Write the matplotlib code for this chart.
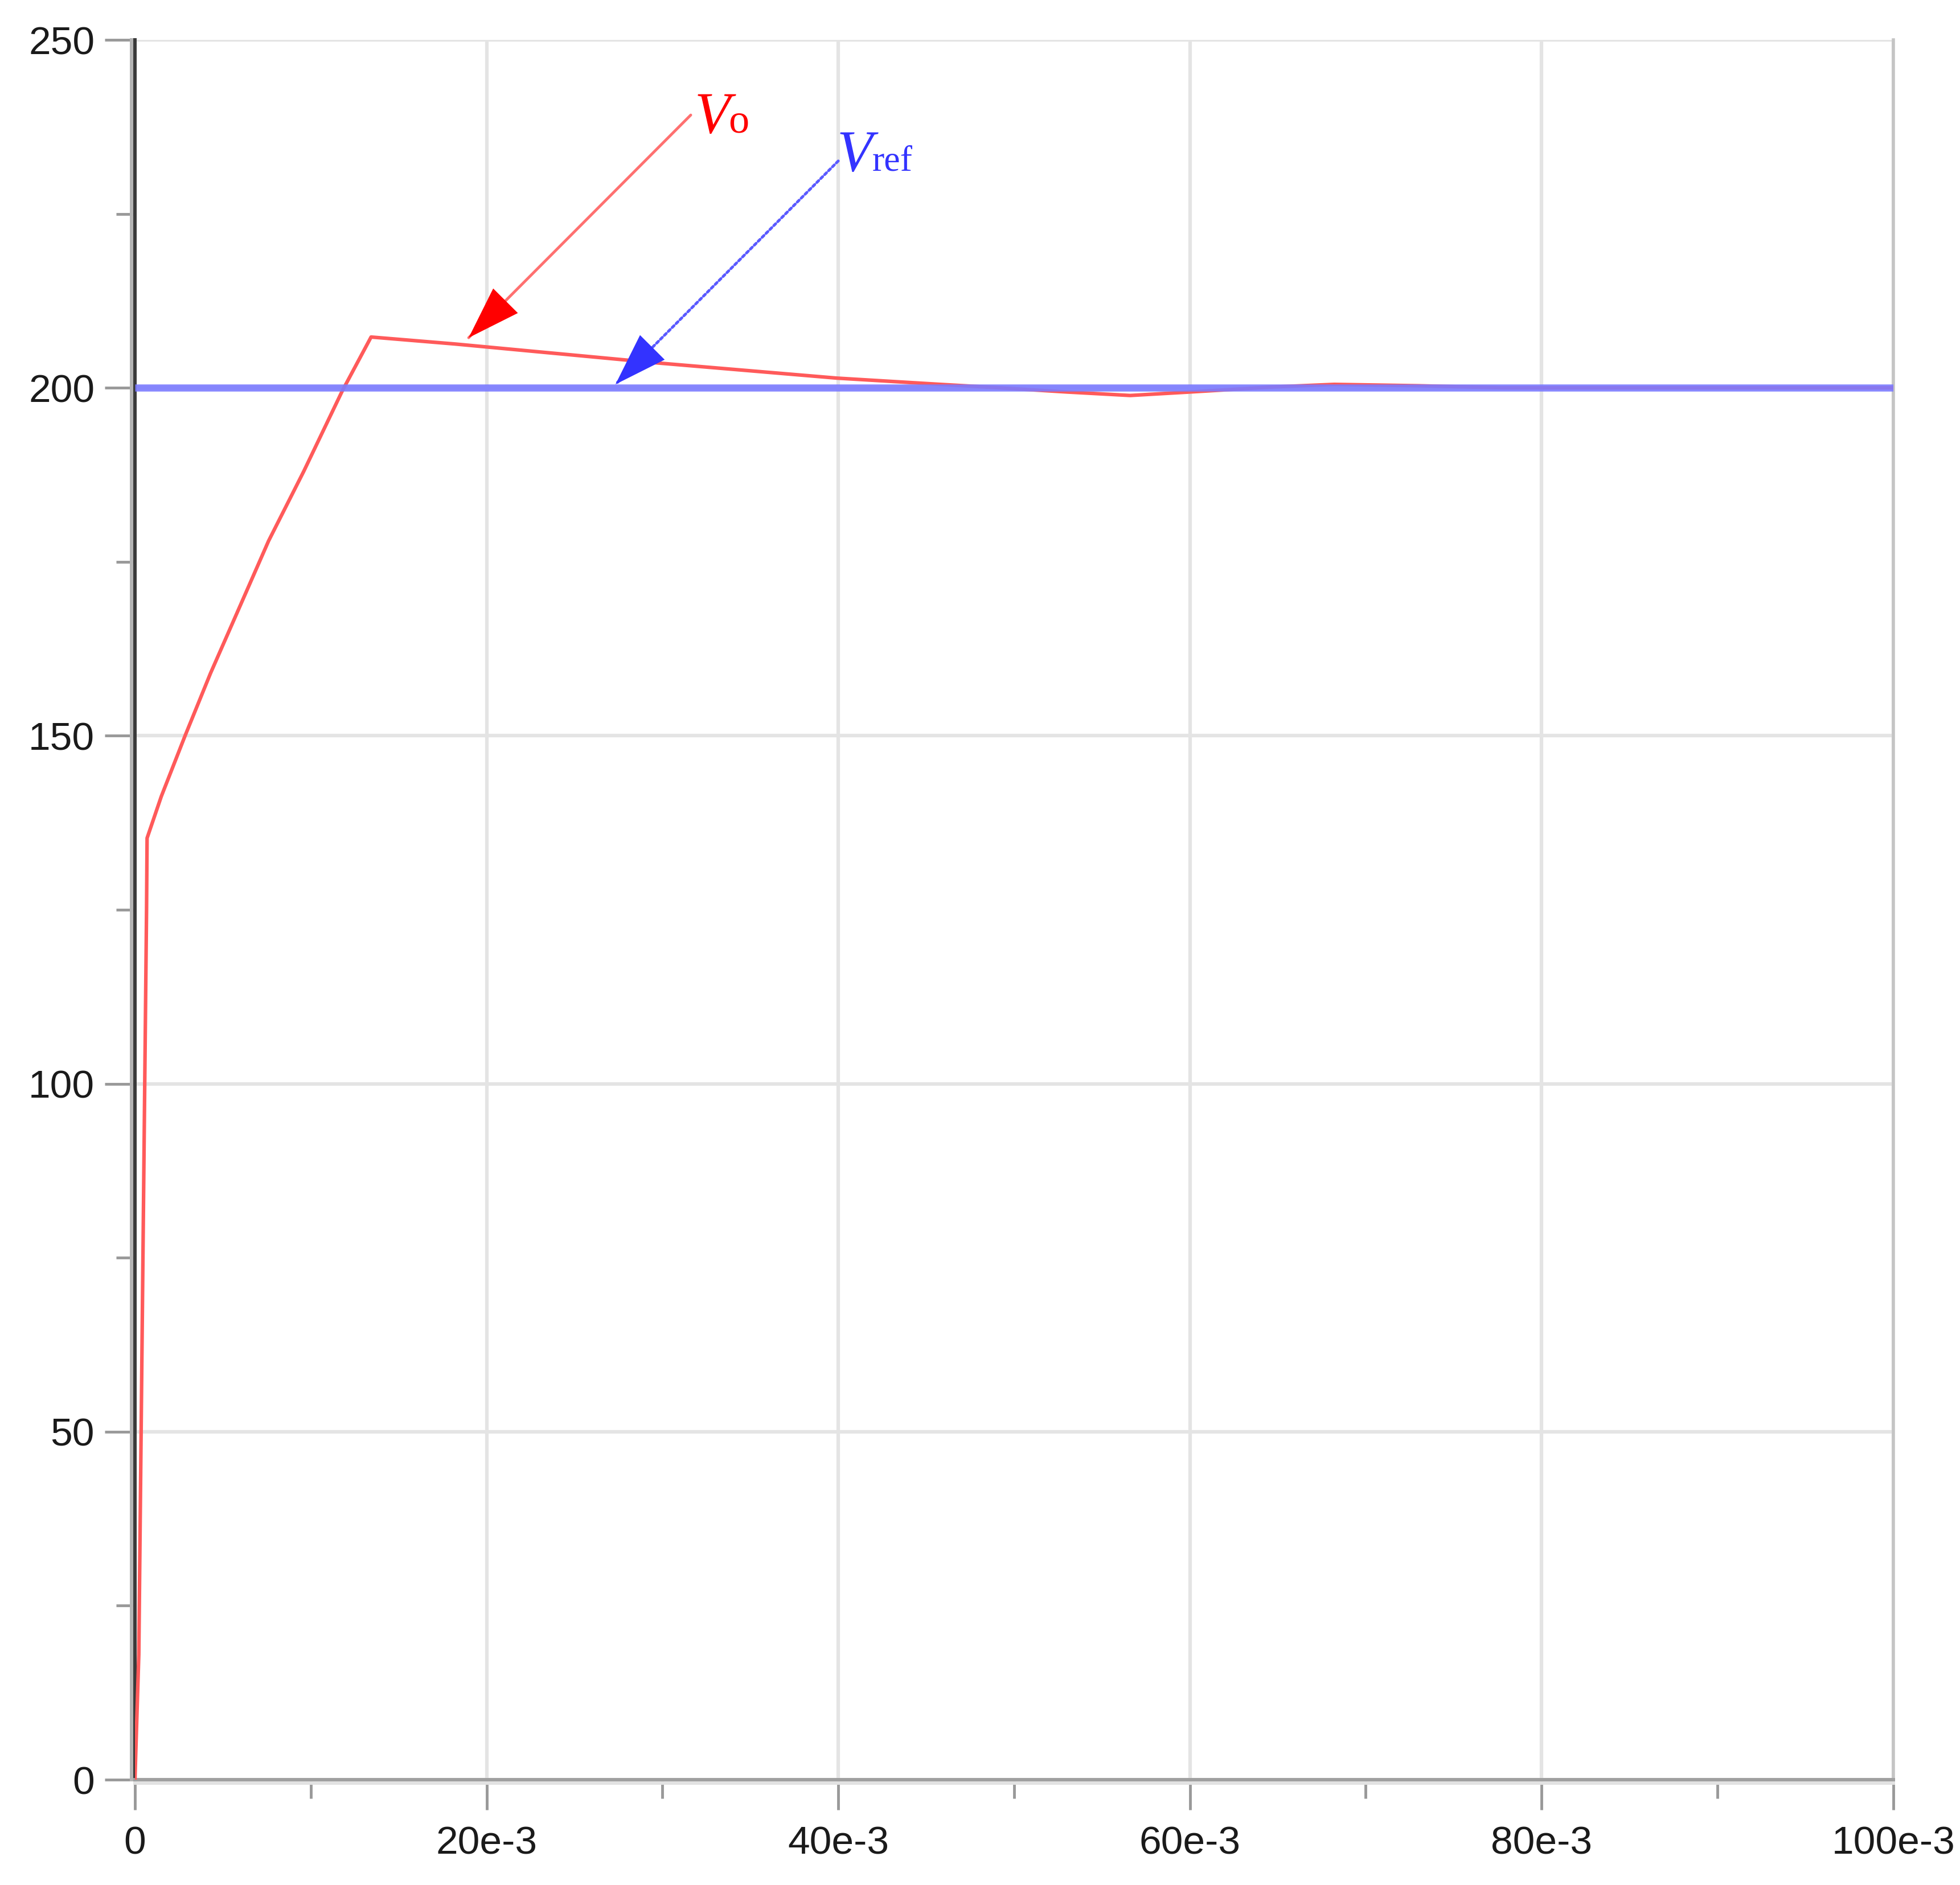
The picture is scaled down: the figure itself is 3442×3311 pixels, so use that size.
import matplotlib.pyplot as plt
import matplotlib.patheffects as pe
from matplotlib.ticker import MultipleLocator

# output voltage Vo (time in s, volts)
t_vo = [0, 0.00022, 0.00066, 0.00069, 0.0015, 0.00285, 0.0043, 0.00576, 0.0076,
        0.0096, 0.0118, 0.01343, 0.0182, 0.0296, 0.0399, 0.0458, 0.0492,
        0.053, 0.0566, 0.060, 0.0626, 0.0645, 0.0682, 0.073, 0.0779, 0.1]
v_vo = [0, 18, 125, 135.3, 141.3, 150.0, 159.0, 167.4, 178.0,
        188.0, 199.6, 207.3, 206.3, 203.6, 201.4, 200.5, 200.0,
        199.4, 198.9, 199.4, 199.8, 200.1, 200.5, 200.3, 200.0, 200.0]

# reference voltage
t_ref = [0, 0.1]
v_ref = [200, 200]

x_ticks = [0, 0.02, 0.04, 0.06, 0.08, 0.1]
x_labels = ["0", "20e-3", "40e-3", "60e-3", "80e-3", "100e-3"]
y_ticks = [0, 50, 100, 150, 200, 250]

# annotation anchors (tail, tip) in data coords
vo_tail, vo_tip = (0.03161, 239.2), (0.01898, 207.2)
ref_tail, ref_tip = (0.0400, 232.6), (0.02733, 200.5)

plt.rcParams['font.family'] = ['Liberation Sans', 'DejaVu Sans']

fig = plt.figure(figsize=(34.42, 33.11), dpi=100)
ax = fig.add_axes([0.06885, 0.05587, 0.8971, 0.92298])

ax.plot(t_vo, v_vo, color='#ff5a5a', lw=4.5, zorder=3)
ax.plot(t_ref, v_ref, color='#7b7bff', lw=9, alpha=0.9, zorder=4, solid_capstyle='butt')

ax.set_xlim(0, 0.1)
ax.set_ylim(0, 250)
ax.set_xticks(x_ticks, x_labels)
ax.set_yticks(y_ticks)
ax.xaxis.set_minor_locator(MultipleLocator(0.01))
ax.yaxis.set_minor_locator(MultipleLocator(25))

ax.grid(which='major', color='#e4e4e4', lw=4.5)
ax.set_axisbelow(True)

ax.tick_params(which='major', length=38, width=3.5, color='#999999',
               labelsize=50, labelcolor='#1a1a1a')
ax.tick_params(which='minor', length=24, width=3.5, color='#999999')
ax.tick_params(axis='x', which='major', pad=20)
ax.tick_params(axis='y', which='major', pad=13)
ax.xaxis.get_major_ticks()[0].tick1line.set_color('#3a3a3a')
ax.yaxis.get_major_ticks()[0].tick1line.set_color('#3a3a3a')

ax.spines['top'].set_visible(False)
ax.spines['left'].set_color('#3a3a3a')
ax.spines['left'].set_linewidth(4.3)
ax.spines['left'].set_path_effects([
    pe.SimpleLineShadow(offset=(-4.5, 0), shadow_color='#b4b4b4', alpha=1), pe.Normal()])
ax.spines['bottom'].set_color('#a0a0a0')
ax.spines['bottom'].set_linewidth(4.3)
ax.spines['bottom'].set_path_effects([
    pe.SimpleLineShadow(offset=(0, -4.5), shadow_color='#e2e2e2', alpha=1), pe.Normal()])
ax.spines['right'].set_color('#c4c4c4')
ax.spines['right'].set_linewidth(4)


def draw_arrow(tail, tip, line_color, head_color, ls, lw):
    ax.annotate('', xy=tip, xytext=tail,
                arrowprops=dict(arrowstyle='-', color=line_color, lw=lw, linestyle=ls,
                                shrinkA=0, shrinkB=0), zorder=5)
    ax.annotate('', xy=tip, xytext=tail,
                arrowprops=dict(arrowstyle='-|>,head_length=66,head_width=22', mutation_scale=1,
                                color=head_color, lw=0, shrinkA=0, shrinkB=0), zorder=6)


draw_arrow(vo_tail, vo_tip, '#ff7070', '#ff0000', '-', 3.5)
draw_arrow(ref_tail, ref_tip, '#5a5aff', '#3333ff', (0, (1, 1)), 3.5)

ax.text(0.03183, 236.7, 'V', color='#ff0000', fontsize=74, family='Liberation Serif',
        style='italic', va='baseline')
ax.text(0.03374, 236.7, 'o', color='#ff0000', fontsize=52, family='Liberation Serif',
        va='baseline')
ax.text(0.03993, 231.2, 'V', color='#3333ff', fontsize=74, family='Liberation Serif',
        style='italic', va='baseline')
ax.text(0.04194, 231.2, 'ref', color='#3333ff', fontsize=46, family='Liberation Serif',
        va='baseline')

fig.savefig('out.png', dpi=100)
